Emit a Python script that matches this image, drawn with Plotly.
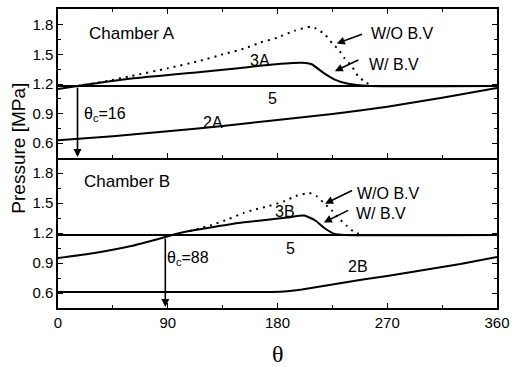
import plotly.graph_objects as go

# ---------------- data ----------------
theta_line5 = [0, 360]
p_line5 = [1.18, 1.18]

# Chamber A
theta_2A = [0, 45, 90, 135, 180, 225, 270, 315, 360]
p_2A = [0.63, 0.67, 0.72, 0.775, 0.835, 0.895, 0.97, 1.06, 1.16]

theta_3A_wbv = [0, 16, 60, 115, 148, 174, 200, 208, 218, 227, 237, 245, 255, 360]
p_3A_wbv = [1.15, 1.18, 1.255, 1.32, 1.36, 1.395, 1.415, 1.40, 1.31, 1.245, 1.205, 1.19, 1.18, 1.18]

theta_3A_wobv = [16, 40, 60, 90, 115, 135, 153, 166, 180, 194, 207, 212, 219, 225, 230, 235, 241, 246, 252, 258]
p_3A_wobv = [1.18, 1.23, 1.28, 1.36, 1.43, 1.50, 1.56, 1.62, 1.67, 1.74, 1.78, 1.76, 1.70, 1.61, 1.55, 1.46, 1.38, 1.28, 1.22, 1.18]

# Chamber B
theta_2B = [0, 90, 170, 185, 200, 225, 250, 270, 300, 330, 360]
p_2B = [0.61, 0.61, 0.61, 0.615, 0.635, 0.685, 0.735, 0.77, 0.83, 0.89, 0.96]

theta_3B_wbv = [0, 30, 60, 88, 100, 110, 130, 148, 170, 188, 202, 211, 219, 227, 235, 360]
p_3B_wbv = [0.95, 1.00, 1.07, 1.16, 1.20, 1.225, 1.265, 1.30, 1.33, 1.355, 1.375, 1.325, 1.245, 1.19, 1.18, 1.18]

theta_3B_wobv = [108, 126, 140, 152, 160, 173, 186, 195, 206, 212, 218, 225, 230, 237, 243, 250]
p_3B_wobv = [1.22, 1.28, 1.34, 1.40, 1.43, 1.47, 1.52, 1.57, 1.60, 1.57, 1.50, 1.42, 1.35, 1.27, 1.21, 1.18]

theta_c_A = 16
theta_c_B = 88

x_ticks = [0, 90, 180, 270, 360]
y_ticks = [0.6, 0.9, 1.2, 1.5, 1.8]

# ---------------- figure ----------------
fig = go.Figure()
solid = dict(color="black", width=2)
dotted = dict(color="black", width=2, dash="2px,5px")

def add(x, y, line, xa, ya, smoothing=0.5):
    fig.add_trace(go.Scatter(x=x, y=y, mode="lines",
                             line=dict(**line, shape="spline", smoothing=smoothing),
                             xaxis=xa, yaxis=ya, showlegend=False, hoverinfo="skip"))

# top panel (Chamber A) -> x2 / y2
add(theta_line5, p_line5, solid, "x2", "y2")
add(theta_2A, p_2A, solid, "x2", "y2")
add(theta_3A_wbv, p_3A_wbv, solid, "x2", "y2")
add(theta_3A_wobv, p_3A_wobv, dotted, "x2", "y2")
# bottom panel (Chamber B) -> x / y
add(theta_line5, p_line5, solid, "x", "y")
add(theta_2B, p_2B, solid, "x", "y", smoothing=0.3)
add(theta_3B_wbv, p_3B_wbv, solid, "x", "y")
add(theta_3B_wobv, p_3B_wobv, dotted, "x", "y")

FONT = "Liberation Sans, Arial, sans-serif"
split = 151 / 301

def axis_common(mirror="allticks"):
    return dict(
        showline=True, linecolor="black", linewidth=1.5, mirror=mirror,
        ticks="inside", ticklen=5, tickwidth=1.2, tickcolor="black",
        showgrid=False, zeroline=False,
        tickfont=dict(family=FONT, size=15, color="black"),
    )

fig.update_layout(
    width=517, height=367,
    margin=dict(l=58, r=15, t=7, b=59),
    paper_bgcolor="white", plot_bgcolor="white",
    xaxis=dict(**axis_common(False), range=[0, 360], tickvals=x_ticks, anchor="y", domain=[0, 1],
               minor=dict(ticks="inside", dtick=45, ticklen=3, tickcolor="black")),
    xaxis2=dict(**axis_common(), range=[0, 360], tickvals=x_ticks, anchor="y2", matches="x",
                showticklabels=False, domain=[0, 1],
                minor=dict(ticks="inside", dtick=45, ticklen=3, tickcolor="black")),
    yaxis=dict(**axis_common(), range=[0.45, 1.95], tickvals=y_ticks, tickformat=".1f",
               domain=[0, split], anchor="x",
               minor=dict(ticks="inside", tick0=0.15, dtick=0.15, ticklen=3, tickcolor="black")),
    yaxis2=dict(**axis_common(), range=[0.45, 1.96], tickvals=y_ticks, tickformat=".1f",
                domain=[split, 1], anchor="x2",
                minor=dict(ticks="inside", tick0=0.15, dtick=0.15, ticklen=3, tickcolor="black")),
)

ann = []

def text(x, y, s, xr, yr, size=16, xanchor="center"):
    ann.append(dict(x=x, y=y, xref=xr, yref=yr, text=s, showarrow=False, xanchor=xanchor,
                    yanchor="middle", font=dict(family=FONT, size=size, color="black")))

def arrow(x0, y0, x1, y1, xr, yr):
    ann.append(dict(x=x1, y=y1, ax=x0, ay=y0, xref=xr, yref=yr, axref=xr, ayref=yr, text="",
                    showarrow=True, arrowhead=2, arrowsize=1, arrowwidth=1.6, arrowcolor="black"))

# Chamber A labels
text(23.5, 1.71, "Chamber A", "x2", "y2", size=17, xanchor="left")
text(166, 1.44, "3A", "x2", "y2")
text(176, 1.055, "5", "x2", "y2")
text(127, 0.81, "2A", "x2", "y2")
text(20, 0.89, "θ<sub>c</sub>=16", "x2", "y2", xanchor="left")
text(255, 1.71, "W/O B.V", "x2", "y2", xanchor="left")
text(253, 1.40, "W/ B.V", "x2", "y2", xanchor="left")
arrow(250.5, 1.71, 228.6, 1.61, "x2", "y2")
arrow(247.5, 1.45, 227.0, 1.33, "x2", "y2")
arrow(theta_c_A, 1.18, theta_c_A, 0.46, "x2", "y2")

# Chamber B labels
text(19.5, 1.72, "Chamber B", "x", "y", size=17, xanchor="left")
text(186.5, 1.42, "3B", "x", "y")
text(190.5, 1.05, "5", "x", "y")
text(245.7, 0.865, "2B", "x", "y")
text(87.6, 0.95, "θ<sub>c</sub>=88", "x", "y", xanchor="left")
text(243.2, 1.60, "W/O B.V", "x", "y", xanchor="left")
text(242.4, 1.394, "W/ B.V", "x", "y", xanchor="left")
arrow(242.4, 1.632, 219, 1.493, "x", "y")
arrow(239.2, 1.434, 218, 1.305, "x", "y")
arrow(theta_c_B, 1.16, theta_c_B, 0.46, "x", "y")

# axis titles
ann.append(dict(x=-0.092, y=0.535, xref="paper", yref="paper", text="Pressure [MPa]", textangle=-90,
                showarrow=False, xanchor="center", yanchor="middle",
                font=dict(family=FONT, size=19, color="black")))
ann.append(dict(x=0.5, y=-0.155, xref="paper", yref="paper", text="θ", showarrow=False,
                xanchor="center", yanchor="middle",
                font=dict(family="Liberation Serif, Times New Roman, serif", size=24, color="black")))

fig.update_layout(annotations=ann)
fig.write_html("out.html")
